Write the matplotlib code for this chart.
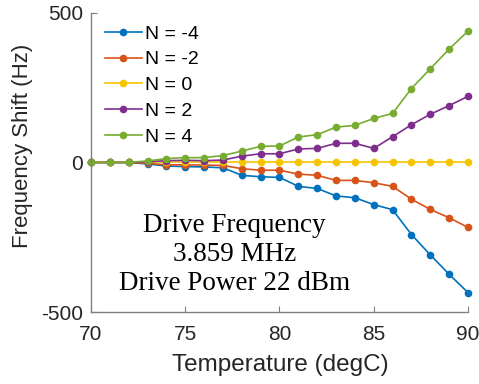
import matplotlib.pyplot as plt

temps = list(range(70, 91))

shift_m4 = [0, 0, 0, -5, -12, -14, -15, -18, -43, -48, -50, -80, -87, -112, -118, -141, -158, -241, -309, -374, -435]
shift_m2 = [0, 0, 0, -3, -8, -8, -9, -10, -21, -26, -26, -39, -43, -60, -60, -68, -80, -123, -157, -185, -217]
shift_0 = [0] * 21
shift_p2 = [0, 0, 0, 2, 6, 7, 6, 8, 21, 29, 29, 45, 47, 64, 64, 47, 86, 126, 161, 190, 221]
shift_p4 = [0, 0, 0, 5, 13, 16, 16, 23, 38, 54, 55, 85, 93, 118, 124, 147, 164, 247, 313, 379, 439]

series = [
    ('N = -4', shift_m4, '#0072BD'),
    ('N = -2', shift_m2, '#D95319'),
    ('N = 0', shift_0, '#F7C400'),
    ('N = 2', shift_p2, '#7E2F8E'),
    ('N = 4', shift_p4, '#77AC30'),
]

plt.rcParams['font.family'] = ['Liberation Sans', 'DejaVu Sans']
plt.rcParams['axes.unicode_minus'] = False

fig = plt.figure(figsize=(4.79, 3.84), dpi=100)
ax = fig.add_axes([0.19, 0.1875, 0.787, 0.779])

for label, vals, color in series:
    ax.plot(temps, vals, '-o', color=color, lw=1.2, ms=5.5, label=label,
            markeredgewidth=0, clip_on=False)

ax.set_xlim(70, 90)
ax.set_ylim(-500, 500)
ax.set_xticks([70, 75, 80, 85, 90])
ax.set_yticks([-500, 0, 500])
ax.tick_params(direction='in', length=4, color='#808080', labelcolor='#262626',
               labelsize=15)
ax.tick_params(axis='x', pad=9)
ax.tick_params(axis='y', pad=5.5)
for side in ['top', 'right']:
    ax.spines[side].set_visible(False)
for side in ['left', 'bottom']:
    ax.spines[side].set_color('#808080')
    ax.spines[side].set_linewidth(1.0)

ax.set_xlabel('Temperature (degC)', fontsize=17.5, color='#262626')
ax.set_ylabel('Frequency Shift (Hz)', fontsize=16, color='#262626')
ax.xaxis.set_label_coords(0.501, -0.14)
ax.yaxis.set_label_coords(-0.154, 0.555)

ax.legend(loc='upper left', bbox_to_anchor=(0.0, 1.005), frameon=False, fontsize=14,
          handlelength=1.9, handletextpad=0.2, labelspacing=0.42, borderaxespad=0.3)

ax.text(77.6, -308, 'Drive Frequency\n3.859 MHz\nDrive Power 22 dBm', ha='center', va='center',
        fontsize=19.5, family='Liberation Serif', color='black', linespacing=1.2)

fig.savefig('out.png', dpi=100)
